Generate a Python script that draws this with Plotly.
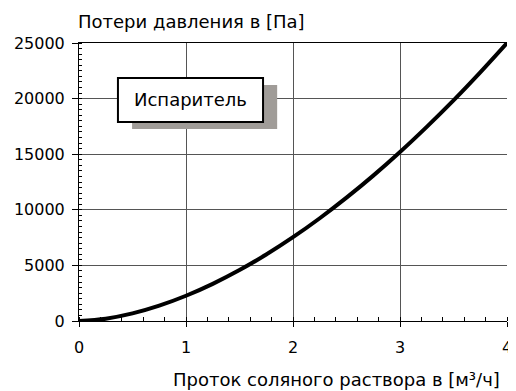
import plotly.graph_objects as go

# flow [m3/h] and pressure loss [Pa]
flow = [0, 0.25, 0.5, 0.75, 1.0, 1.25, 1.5, 1.75, 2.0, 2.25, 2.5, 2.75, 3.0, 3.25, 3.5, 3.75, 4.0]
loss = [0, 210, 685, 1380, 2270, 3340, 4580, 5980, 7535, 9240, 11090, 13075, 15200, 17460, 19840, 22360, 25000]

x_ticks = [0, 1, 2, 3, 4]
y_ticks = [0, 5000, 10000, 15000, 20000, 25000]

font = "DejaVu Sans, sans-serif"

fig = go.Figure()
fig.add_trace(go.Scatter(x=flow, y=loss, mode="lines", line=dict(color="black", width=4, shape="spline"),
                         showlegend=False, hoverinfo="skip", cliponaxis=False))

# page body has an 8px margin, so the figure is 8px smaller and margins shifted
fig.update_layout(
    width=508, height=383,
    margin=dict(l=71, r=9, t=35, b=70),
    paper_bgcolor="white", plot_bgcolor="white",
    font=dict(family=font, size=16, color="black"),
    xaxis=dict(range=[0, 4], tickvals=x_ticks, ticktext=[str(v) for v in x_ticks],
               ticks="outside", ticklen=5, tickcolor="black", automargin=False,
               ticklabelstandoff=7,
               showline=True, linecolor="black", linewidth=1, mirror=True,
               showgrid=True, gridcolor="#555555", gridwidth=1, zeroline=False,
               minor=dict(dtick=0.2, ticks="inside", ticklen=4, tickcolor="black", showgrid=False),
               tickfont=dict(size=16)),
    yaxis=dict(range=[0, 25000], tickvals=y_ticks, ticktext=[str(v) for v in y_ticks],
               ticks="outside", ticklen=6, tickcolor="black", automargin=False,
               ticklabelstandoff=4,
               showline=True, linecolor="black", linewidth=1,
               showgrid=True, gridcolor="#555555", gridwidth=1, zeroline=False,
               minor=dict(dtick=500, ticks="inside", ticklen=3, tickcolor="black", showgrid=False),
               tickfont=dict(size=16)),
    shapes=[
        dict(type="rect", xref="paper", yref="paper", x0=0.124, x1=0.463, y0=0.691, y1=0.849,
             fillcolor="#a09c98", line=dict(width=0), layer="above"),
        dict(type="rect", xref="paper", yref="paper", x0=0.091, x1=0.43, y0=0.716, y1=0.874,
             fillcolor="white", line=dict(color="black", width=2), layer="above"),
    ],
    annotations=[
        dict(text="Испаритель", xref="paper", yref="paper", x=0.26, y=0.795, showarrow=False,
             font=dict(size=18), xanchor="center", yanchor="middle"),
        dict(text="Потери давления в [Па]", xref="paper", yref="paper", x=0.0, y=1.0,
             xshift=-3, yshift=22, showarrow=False, xanchor="left", yanchor="middle", font=dict(size=18)),
        dict(text="Проток соляного раствора в [м³/ч]", xref="paper", yref="paper", x=1.0, y=0,
             xshift=-5, yshift=-58, showarrow=False, xanchor="right", yanchor="middle", font=dict(size=18)),
    ],
)

fig.write_html("out.html")
